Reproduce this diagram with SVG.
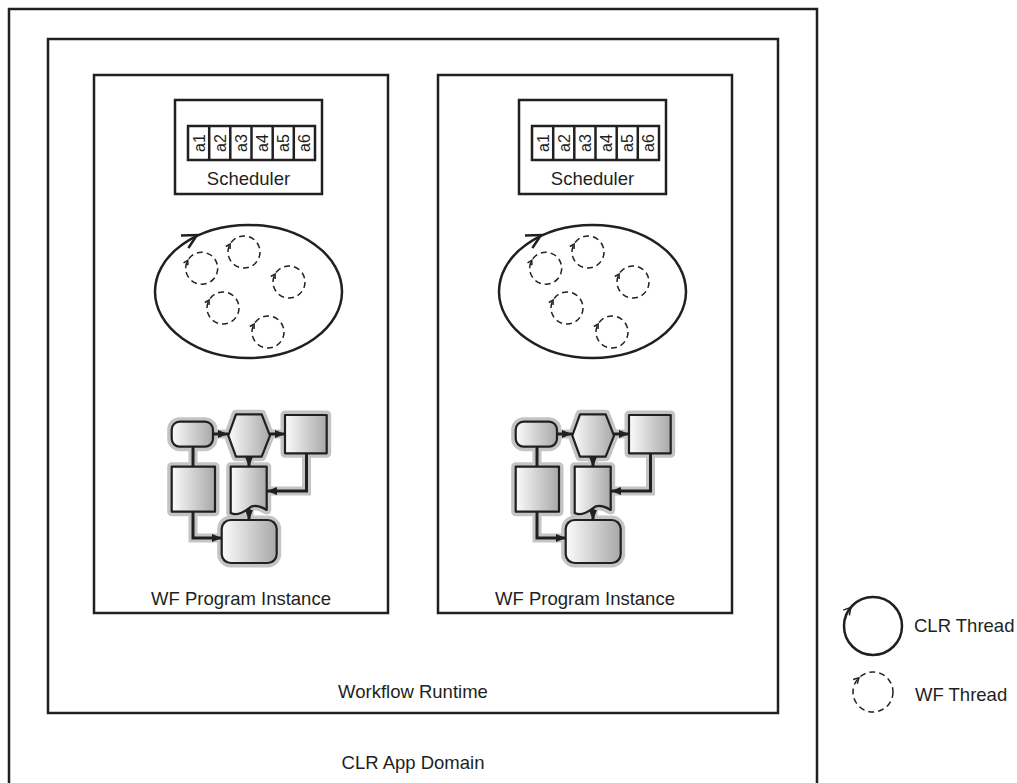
<svg xmlns="http://www.w3.org/2000/svg" xmlns:xlink="http://www.w3.org/1999/xlink" width="1017" height="783" viewBox="0 0 1017 783">
<style>
.box{fill:none;stroke:#231f20;stroke-width:2.5}
.lbl{font-family:"Liberation Sans",Arial,sans-serif;font-size:18.5px;fill:#231f20;text-anchor:middle}
.slot{font-family:"Liberation Sans",Arial,sans-serif;font-size:16px;fill:#231f20;text-anchor:middle}
.halo{fill:#c4c4c4;stroke:#c4c4c4;stroke-width:9;stroke-linejoin:round}
.haloL{fill:none;stroke:#c4c4c4;stroke-width:9}
.shp{fill:url(#grad);stroke:#231f20;stroke-width:2.2;stroke-linejoin:round}
.con{fill:none;stroke:#231f20;stroke-width:3}
.dash{fill:none;stroke:#231f20;stroke-width:1.5;stroke-dasharray:6 4}
.thin{fill:none;stroke:#231f20;stroke-width:1.5}
.solid{fill:none;stroke:#231f20;stroke-width:2.5}
</style>
<defs>
<linearGradient id="grad" x1="0" y1="0" x2="1" y2="0">
<stop offset="0" stop-color="#fbfbfb"/>
<stop offset="1" stop-color="#a8a8a8"/>
</linearGradient>
<marker id="arr" markerUnits="userSpaceOnUse" markerWidth="10" markerHeight="10" viewBox="0 0 10 10" refX="10" refY="5" orient="auto">
<path d="M0,1 L10,5 L0,9 Z" fill="#231f20"/>
</marker>
<g id="wft">
<circle r="16" class="dash"/>
<path d="M-18.2,-5.5 L-13.9,-8 L-13.9,-3" class="thin"/>
</g>
</defs>

<g id="clr-app-domain">
<rect x="9" y="9" width="808" height="800" class="box"/>
<text x="413" y="769" class="lbl">CLR App Domain</text>
</g>

<g id="workflow-runtime">
<rect x="48" y="39" width="730" height="674" class="box"/>
<text x="413" y="698" class="lbl">Workflow Runtime</text>
</g>

<g id="instance1">
<rect x="94" y="75" width="294" height="538" class="box"/>
<text x="241" y="605" class="lbl">WF Program Instance</text>
<g id="scheduler1">
<rect x="175" y="100" width="147" height="94" class="box"/>
<rect x="188" y="126" width="127" height="34" fill="none" stroke="#231f20" stroke-width="2.5"/>
<path d="M209.2,126V160M230.3,126V160M251.5,126V160M272.7,126V160M293.8,126V160" stroke="#231f20" stroke-width="2.5"/>
<text class="slot" transform="translate(204.6,143) rotate(-90)">a1</text>
<text class="slot" transform="translate(225.8,143) rotate(-90)">a2</text>
<text class="slot" transform="translate(247,143) rotate(-90)">a3</text>
<text class="slot" transform="translate(268.1,143) rotate(-90)">a4</text>
<text class="slot" transform="translate(289.3,143) rotate(-90)">a5</text>
<text class="slot" transform="translate(310.4,143) rotate(-90)">a6</text>
<text x="248.5" y="185" class="lbl">Scheduler</text>
</g>
<g id="threads1">
<ellipse cx="248.5" cy="291.5" rx="93.5" ry="66.5" class="solid"/>
<path d="M181,235.5 L197,235 L188.4,248" class="solid"/>
<use xlink:href="#wft" x="201.7" y="268.3"/>
<use xlink:href="#wft" x="244" y="252"/>
<use xlink:href="#wft" x="289" y="282"/>
<use xlink:href="#wft" x="223" y="308"/>
<use xlink:href="#wft" x="268" y="332"/>
</g>
<g id="flow1">
<g id="halo1">
<rect x="171.7" y="421.7" width="41.3" height="25" rx="8" class="halo"/>
<path d="M228.3,435.7 L236,414.3 L261.7,414.3 L270,435.7 L261.7,456.7 L236,456.7 Z" class="halo"/>
<rect x="285" y="415" width="41.7" height="38.3" class="halo"/>
<rect x="171.7" y="466.7" width="43.3" height="45" class="halo"/>
<path d="M230.7,466.7 H266.7 V510 C260,506 254,504 249,508 C243,513 237,516 230.7,513 Z" class="halo"/>
<rect x="221.7" y="520" width="55" height="43" rx="9" class="halo"/>
<path d="M213,434H228M270,434H285M193,447V467M249,457V467M306.5,453V491H267M193,512V538H222M249,511V520" class="haloL"/>
</g>
<g id="shapes1">
<rect id="n1a" x="171.7" y="421.7" width="41.3" height="25" rx="8" class="shp"/>
<path id="n1b" d="M228.3,435.7 L236,414.3 L261.7,414.3 L270,435.7 L261.7,456.7 L236,456.7 Z" class="shp"/>
<rect id="n1c" x="285" y="415" width="41.7" height="38.3" class="shp"/>
<rect id="n1d" x="171.7" y="466.7" width="43.3" height="45" class="shp"/>
<path id="n1e" d="M230.7,466.7 H266.7 V510 C260,506 254,504 249,508 C243,513 237,516 230.7,513 Z" class="shp"/>
<rect id="n1f" x="221.7" y="520" width="55" height="43" rx="9" class="shp"/>
</g>
<g id="connectors1">
<path d="M213,434H228" class="con" marker-end="url(#arr)"/>
<path d="M270,434H285" class="con" marker-end="url(#arr)"/>
<path d="M193,447V466.7" class="con"/>
<path d="M249,457V466.7" class="con" marker-end="url(#arr)"/>
<path d="M306.5,453V491H267" class="con" marker-end="url(#arr)"/>
<path d="M193,512V538H221.7" class="con" marker-end="url(#arr)"/>
<path d="M249,508V520" class="con" marker-end="url(#arr)"/>
</g>
</g>
</g>

<g id="instance2" transform="translate(344,0)">
<rect x="94" y="75" width="294" height="538" class="box"/>
<text x="241" y="605" class="lbl">WF Program Instance</text>
<g id="scheduler2">
<rect x="175" y="100" width="147" height="94" class="box"/>
<rect x="188" y="126" width="127" height="34" fill="none" stroke="#231f20" stroke-width="2.5"/>
<path d="M209.2,126V160M230.3,126V160M251.5,126V160M272.7,126V160M293.8,126V160" stroke="#231f20" stroke-width="2.5"/>
<text class="slot" transform="translate(204.6,143) rotate(-90)">a1</text>
<text class="slot" transform="translate(225.8,143) rotate(-90)">a2</text>
<text class="slot" transform="translate(247,143) rotate(-90)">a3</text>
<text class="slot" transform="translate(268.1,143) rotate(-90)">a4</text>
<text class="slot" transform="translate(289.3,143) rotate(-90)">a5</text>
<text class="slot" transform="translate(310.4,143) rotate(-90)">a6</text>
<text x="248.5" y="185" class="lbl">Scheduler</text>
</g>
<g id="threads2">
<ellipse cx="248.5" cy="291.5" rx="93.5" ry="66.5" class="solid"/>
<path d="M181,235.5 L197,235 L188.4,248" class="solid"/>
<use xlink:href="#wft" x="201.7" y="268.3"/>
<use xlink:href="#wft" x="244" y="252"/>
<use xlink:href="#wft" x="289" y="282"/>
<use xlink:href="#wft" x="223" y="308"/>
<use xlink:href="#wft" x="268" y="332"/>
</g>
<g id="flow2">
<g id="halo2">
<rect x="171.7" y="421.7" width="41.3" height="25" rx="8" class="halo"/>
<path d="M228.3,435.7 L236,414.3 L261.7,414.3 L270,435.7 L261.7,456.7 L236,456.7 Z" class="halo"/>
<rect x="285" y="415" width="41.7" height="38.3" class="halo"/>
<rect x="171.7" y="466.7" width="43.3" height="45" class="halo"/>
<path d="M230.7,466.7 H266.7 V510 C260,506 254,504 249,508 C243,513 237,516 230.7,513 Z" class="halo"/>
<rect x="221.7" y="520" width="55" height="43" rx="9" class="halo"/>
<path d="M213,434H228M270,434H285M193,447V467M249,457V467M306.5,453V491H267M193,512V538H222M249,511V520" class="haloL"/>
</g>
<g id="shapes2">
<rect id="n2a" x="171.7" y="421.7" width="41.3" height="25" rx="8" class="shp"/>
<path id="n2b" d="M228.3,435.7 L236,414.3 L261.7,414.3 L270,435.7 L261.7,456.7 L236,456.7 Z" class="shp"/>
<rect id="n2c" x="285" y="415" width="41.7" height="38.3" class="shp"/>
<rect id="n2d" x="171.7" y="466.7" width="43.3" height="45" class="shp"/>
<path id="n2e" d="M230.7,466.7 H266.7 V510 C260,506 254,504 249,508 C243,513 237,516 230.7,513 Z" class="shp"/>
<rect id="n2f" x="221.7" y="520" width="55" height="43" rx="9" class="shp"/>
</g>
<g id="connectors2">
<path d="M213,434H228" class="con" marker-end="url(#arr)"/>
<path d="M270,434H285" class="con" marker-end="url(#arr)"/>
<path d="M193,447V466.7" class="con"/>
<path d="M249,457V466.7" class="con" marker-end="url(#arr)"/>
<path d="M306.5,453V491H267" class="con" marker-end="url(#arr)"/>
<path d="M193,512V538H221.7" class="con" marker-end="url(#arr)"/>
<path d="M249,508V520" class="con" marker-end="url(#arr)"/>
</g>
</g>
</g>

<g id="legend-clr-thread">
<circle cx="873" cy="626" r="29" class="solid"/>
<path d="M843.3,610.1 L850.8,607.4 L849.4,615.3" class="thin"/>
<text x="914" y="632" class="lbl" style="text-anchor:start">CLR Thread</text>
</g>
<g id="legend-wf-thread">
<circle cx="873" cy="692" r="20" class="dash" stroke-dasharray="7 5"/>
<path d="M853.1,679.5 L858.9,677.9 L857.3,683.7" class="thin"/>
<text x="915" y="701" class="lbl" style="text-anchor:start">WF Thread</text>
</g>
</svg>
